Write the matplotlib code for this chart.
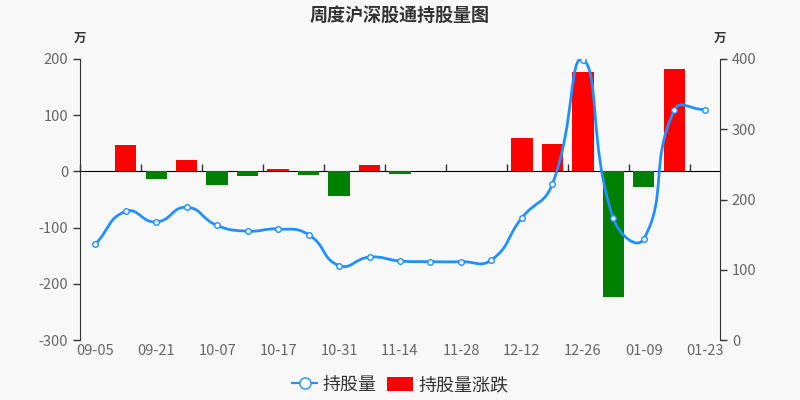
import matplotlib.pyplot as plt
import numpy as np
from matplotlib.path import Path
from matplotlib.patches import PathPatch
from matplotlib.lines import Line2D
from matplotlib.patches import Patch

plt.rcParams['font.family'] = ['Noto Sans CJK SC', 'DejaVu Sans']
plt.rcParams['axes.unicode_minus'] = False

dates = ['09-05', '09-12', '09-21', '09-26', '10-07', '10-10', '10-17',
         '10-24', '10-31', '11-07', '11-14', '11-21', '11-28', '12-05',
         '12-12', '12-19', '12-26', '01-02', '01-09', '01-16', '01-23']
# weekly change (万), left axis
change = [0, 47, -14, 21, -25, -8, 3.5, -7, -43, 12, -4.5, 0, 0, 1.5,
          60, 48, 176, -224, -28, 182, 1]
# holding (万), right axis
holding = [136, 183, 168, 189, 163, 155, 158, 150, 106, 118, 112.5, 111.5,
           111.5, 114, 174, 222, 399, 173, 144, 327, 328]

bg = '#f8f8f8'
fig = plt.figure(figsize=(8, 4), dpi=100, facecolor=bg)
ax = fig.add_axes([0.1, 0.15, 0.8, 0.7025])
ax.set_facecolor(bg)
ax2 = ax.twinx()

x = np.arange(len(dates))
colors = ['#ff0000' if v >= 0 else '#008000' for v in change]
ax.bar(x, change, width=0.7, color=colors, zorder=2)

ax.set_xlim(-0.5, len(dates) - 0.5)
ax.set_ylim(-300, 200)
ax.set_yticks(range(-300, 201, 100))
ax2.set_ylim(0, 400)
ax2.set_yticks(range(0, 401, 100))

# smooth line like echarts (smooth=0.5), control points from the data
sx, sy = 30.5, 0.7025  # pixel scale for segment length ratios
n = len(holding)
pts = np.column_stack([x, holding]).astype(float)
cp_in, cp_out = [], []
for i in range(n):
    prev = pts[i - 1] if i > 0 else pts[i]
    nxt = pts[i + 1] if i < n - 1 else pts[i]
    v = (nxt - prev) * 0.5
    d0 = np.hypot((pts[i][0] - prev[0]) * sx, (pts[i][1] - prev[1]) * sy)
    d1 = np.hypot((nxt[0] - pts[i][0]) * sx, (nxt[1] - pts[i][1]) * sy)
    r = d1 / (d0 + d1) if d0 + d1 > 0 else 0.5
    cp_in.append(pts[i] - v * (1 - r))
    cp_out.append(pts[i] + v * r)
verts = [tuple(pts[0])]
codes = [Path.MOVETO]
for i in range(n - 1):
    verts += [tuple(cp_out[i]), tuple(cp_in[i + 1]), tuple(pts[i + 1])]
    codes += [Path.CURVE4] * 3
ax2.add_patch(PathPatch(Path(verts, codes), fill=False, edgecolor='#1e90ff',
                        linewidth=2, zorder=3))
ax2.plot(x, holding, linestyle='none', marker='o', markersize=4,
         markerfacecolor='white', markeredgecolor='#1e90ff',
         markeredgewidth=1, zorder=4)

for a in (ax, ax2):
    a.spines['top'].set_visible(False)
    a.spines['bottom'].set_visible(False)
    a.tick_params(axis='y', colors='#333333', labelcolor='#666666',
                  labelsize=10.5, length=5, width=1)
ax2.spines['left'].set_visible(False)
ax.spines['right'].set_visible(False)
ax.spines['left'].set_color('#333333')
ax2.spines['right'].set_color('#333333')

ax.set_xticks(x[::2])
ax.set_xticklabels(dates[::2])
ax.tick_params(axis='x', length=0, labelcolor='#666666', labelsize=10.5, pad=3)

# category axis line drawn at zero
zax = ax.secondary_xaxis(0.6)
zax.set_xticks(np.arange(-0.5, len(dates) - 1, 2))
zax.set_xticklabels([])
zax.tick_params(axis='x', direction='out', length=5, width=1, colors='#333333')
zax.spines['bottom'].set_color('#333333')

fig.text(0.5, 1 - 15 / 400, '周度沪深股通持股量图', ha='center', va='center',
         fontsize=13, fontweight='bold', color='#333333')
fig.text(80 / 800, 1 - 38 / 400, '万', ha='center', va='center', fontsize=9,
         fontweight='bold', color='#333333')
fig.text(720 / 800, 1 - 38 / 400, '万', ha='center', va='center', fontsize=9,
         fontweight='bold', color='#333333')

handles = [Line2D([0], [0], color='#1e90ff', linewidth=1.5, marker='o',
                  markersize=8, markerfacecolor='white',
                  markeredgecolor='#1e90ff'),
           Patch(facecolor='#ff0000')]
fig.legend(handles, ['持股量', '持股量涨跌'], loc='center',
           bbox_to_anchor=(0.5, 1 - 385 / 400), ncol=2, frameon=False,
           fontsize=13, handlelength=1.4, handleheight=0.8,
           columnspacing=0.6, handletextpad=0.3, labelcolor='#333333')

fig.savefig('out.png', dpi=100, facecolor=bg)
